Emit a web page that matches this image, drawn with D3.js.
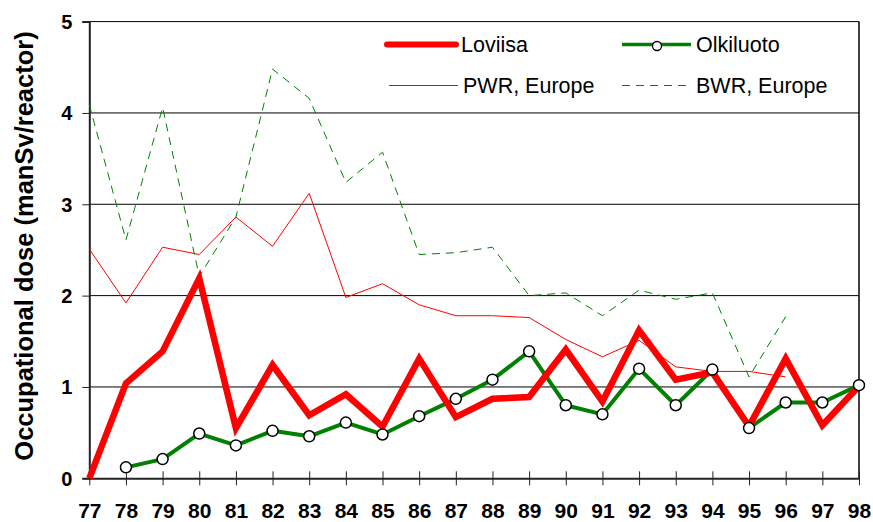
<!DOCTYPE html>
<html><head><meta charset="utf-8">
<script src="https://cdn.jsdelivr.net/npm/d3@7"></script>
<style>body{margin:0;background:#fff}svg{display:block}text{font-family:"Liberation Sans",Arial,sans-serif}</style>
</head><body><svg id="c" width="873" height="522"></svg>
<script>
const years = ["77","78","79","80","81","82","83","84","85","86","87","88","89","90","91","92","93","94","95","96","97","98"];
const loviisa = [0,1.04,1.39,2.19,0.55,1.24,0.69,0.92,0.565,1.31,0.67,0.87,0.89,1.41,0.84,1.62,1.08,1.16,0.57,1.31,0.58,1.01];
const olkiluoto = [null,0.12,0.21,0.49,0.36,0.52,0.46,0.61,0.48,0.68,0.87,1.08,1.39,0.80,0.70,1.20,0.80,1.19,0.55,0.83,0.83,1.02];
const pwrEurope = [2.51,1.92,2.53,2.45,2.86,2.54,3.12,1.98,2.13,1.90,1.78,1.78,1.76,1.52,1.33,1.51,1.22,1.17,1.17,1.11,null,null];
const bwrEurope = [4.09,2.61,4.06,2.21,2.86,4.48,4.16,3.24,3.57,2.45,2.47,2.53,2.00,2.03,1.78,2.06,1.96,2.03,1.11,1.77,null,null];
const yTicks = [0,1,2,3,4,5];
const yLabel = "Occupational dose (manSv/reactor)";

const svg = d3.select("#c");
const L=89.3, R=859, T=21.6, B=478.3;
const x = d3.scalePoint().domain(years).range([L,R]);
const y = d3.scaleLinear().domain([0,5]).range([B,T]);

// gridlines
svg.append("g").selectAll("line").data(yTicks.filter(d=>d>0)).join("line")
  .attr("x1",L).attr("x2",R).attr("y1",d=>y(d)).attr("y2",d=>y(d))
  .attr("stroke","#000").attr("stroke-width",1);
// right border
svg.append("line").attr("x1",R).attr("x2",R).attr("y1",T).attr("y2",B).attr("stroke","#000").attr("stroke-width",1.5);

// axes
const yAxis = d3.axisLeft(y).tickValues(yTicks).tickSize(7).tickFormat(d3.format("d"));
const gy = svg.append("g").attr("transform",`translate(${L},0)`).call(yAxis);
gy.select(".domain").attr("stroke","#222").attr("stroke-width",2);
gy.selectAll(".tick line").attr("stroke","#222");
gy.selectAll(".tick text").attr("font-size",20).attr("font-weight","bold").attr("fill","#000").attr("x",-17).attr("dy","0.35em");

const xAxis = d3.axisBottom(x).tickSize(7).tickSizeOuter(0);
const gx = svg.append("g").attr("transform",`translate(0,${B})`).call(xAxis);
gx.select(".domain").attr("stroke","#222").attr("stroke-width",2);
gx.selectAll(".tick line").attr("stroke","#222").attr("y1",-7).attr("y2",7);
gx.selectAll(".tick text").attr("font-size",21).attr("font-weight","bold").attr("fill","#000").attr("y",25);

const line = d3.line().defined(d=>d[1]!=null).x(d=>x(d[0])).y(d=>y(d[1]));
const pairs = arr => years.map((yr,i)=>[yr,arr[i]]);

svg.append("path").attr("d",line(pairs(bwrEurope))).attr("fill","none").attr("stroke","#008000").attr("stroke-width",1).attr("stroke-dasharray","8,6");
svg.append("path").attr("d",line(pairs(pwrEurope))).attr("fill","none").attr("stroke","#ff0000").attr("stroke-width",1);
svg.append("path").attr("d",line(pairs(olkiluoto))).attr("fill","none").attr("stroke","#008000").attr("stroke-width",4).attr("stroke-linejoin","round");
svg.append("path").attr("d",line(pairs(loviisa))).attr("fill","none").attr("stroke","#ff0000").attr("stroke-width",6.5).attr("stroke-linejoin","miter");
svg.append("g").selectAll("circle").data(pairs(olkiluoto).filter(d=>d[1]!=null)).join("circle")
  .attr("cx",d=>x(d[0])).attr("cy",d=>y(d[1])).attr("r",5.5)
  .attr("fill","#fff").attr("stroke","#000").attr("stroke-width",1.5);

// y label
svg.append("text").attr("transform","translate(33,246) rotate(-90)").attr("text-anchor","middle")
  .attr("font-size",25.5).attr("font-weight","bold").text(yLabel);

// legend
const leg = svg.append("g");
const items = [
  {name:"Loviisa", x1:387, y0:44.5, stroke:"#ff0000", w:6},
  {name:"Olkiluoto", x1:622, y0:44.5, stroke:"#008000", w:3.5, marker:true},
  {name:"PWR, Europe", x1:389, y0:85.5, stroke:"#ff0000", w:1},
  {name:"BWR, Europe", x1:622, y0:85.5, stroke:"#008000", w:1, dash:"8,6"}
];
items.forEach(it=>{
  leg.append("line").attr("x1",it.x1).attr("x2",it.x1+69).attr("y1",it.y0).attr("y2",it.y0)
    .attr("stroke",it.stroke).attr("stroke-width",it.w).attr("stroke-linecap",it.w>4?"round":"butt")
    .attr("stroke-dasharray",it.dash||null);
  if(it.marker) leg.append("circle").attr("cx",it.x1+35).attr("cy",it.y0+1.5).attr("r",4.5).attr("fill","#fff").attr("stroke","#000").attr("stroke-width",1.3);
  leg.append("text").attr("x",it.x1+74).attr("y",it.y0).attr("dy","0.35em").attr("font-size",21.5).text(it.name);
});
</script></body></html>
